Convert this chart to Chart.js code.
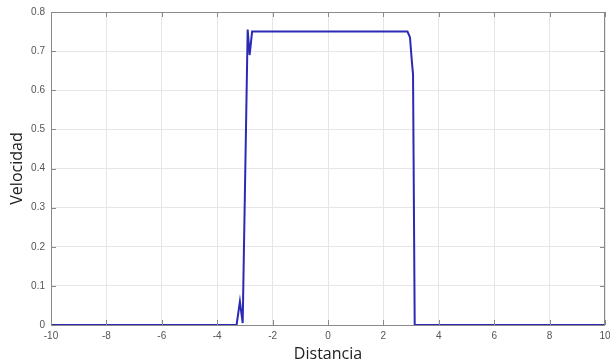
<!DOCTYPE html>
<html>
<head>
<meta charset="utf-8">
<script src="https://cdn.jsdelivr.net/npm/chart.js@4/dist/chart.umd.min.js"></script>
<style>
  html, body { margin: 0; padding: 0; background: #fff; }
  #wrap { width: 610px; height: 364px; }
</style>
</head>
<body>
<div id="wrap"><canvas id="chartVel" width="610" height="364"></canvas></div>
<script>
// perfil de velocidad
var distancia = [-10, -3.3, -3.18, -3.08, -2.9, -2.83, -2.74, 2.87, 2.96, 3.02, 3.07, 3.13, 10];
var velocidad = [0, 0, 0.06, 0.005, 0.755, 0.69, 0.75, 0.75, 0.735, 0.68, 0.64, 0, 0];
var xTicks = [-10, -8, -6, -4, -2, 0, 2, 4, 6, 8, 10];
var yTicks = [0, 0.1, 0.2, 0.3, 0.4, 0.5, 0.6, 0.7, 0.8];

var puntos = distancia.map(function (d, i) { return { x: d, y: velocidad[i] }; });

// caja y marcas interiores estilo matlab
var boxPlugin = {
    id: 'boxPlugin',
    afterDraw: function (chart) {
        var c = chart.ctx, a = chart.chartArea;
        var sx = chart.scales.x, sy = chart.scales.y;
        c.save();
        c.strokeStyle = '#8a8a8a';
        c.lineWidth = 1;
        c.beginPath();
        xTicks.forEach(function (t) {
            var px = Math.round(sx.getPixelForValue(t)) + 0.5;
            c.moveTo(px, a.bottom); c.lineTo(px, a.bottom - 5);
            c.moveTo(px, a.top); c.lineTo(px, a.top + 5);
        });
        yTicks.forEach(function (t) {
            var py = Math.round(sy.getPixelForValue(t)) + 0.5;
            c.moveTo(a.left, py); c.lineTo(a.left + 5, py);
            c.moveTo(a.right, py); c.lineTo(a.right - 5, py);
        });
        c.stroke();
        c.strokeRect(a.left + 0.5, a.top + 0.5, a.right - a.left - 1, a.bottom - a.top);
        c.restore();
    }
};

var ctx = document.getElementById('chartVel').getContext('2d');
var chartVel = new Chart(ctx, {
    type: 'line',
    data: {
        datasets: [{
            data: puntos,
            borderColor: '#2a2ab4',
            borderWidth: 2,
            pointRadius: 0,
            tension: 0,
            fill: false
        }]
    },
    options: {
        responsive: false,
        animation: false,
        layout: { padding: { top: 12, right: 5, left: 0, bottom: 0 } },
        plugins: { legend: { display: false }, tooltip: { enabled: false } },
        scales: {
            x: {
                type: 'linear',
                min: -10,
                max: 10,
                afterFit: function (s) { s.height = 39; s.paddingLeft = 0; s.paddingRight = 0; },
                afterBuildTicks: function (s) { s.ticks = xTicks.map(function (v) { return { value: v }; }); },
                grid: { color: '#e6e6e6', drawTicks: false },
                border: { display: false },
                ticks: { padding: 5, color: '#555', font: { family: 'Liberation Sans', size: 10 }, maxRotation: 0 },
                title: { display: true, text: 'Distancia', color: '#222', padding: { top: 0, bottom: 0 }, font: { family: 'Open Sans', size: 16 } }
            },
            y: {
                min: 0,
                max: 0.8,
                afterFit: function (s) { s.width = 51; },
                afterBuildTicks: function (s) { s.ticks = yTicks.map(function (v) { return { value: v }; }); },
                grid: { color: '#e6e6e6', drawTicks: false },
                border: { display: false },
                ticks: { padding: 6, color: '#555', font: { family: 'Liberation Sans', size: 10 } },
                title: { display: true, text: 'Velocidad', color: '#222', padding: { top: 8, bottom: 0 }, font: { family: 'Open Sans', size: 16 } }
            }
        }
    },
    plugins: [boxPlugin]
});
</script>
</body>
</html>
